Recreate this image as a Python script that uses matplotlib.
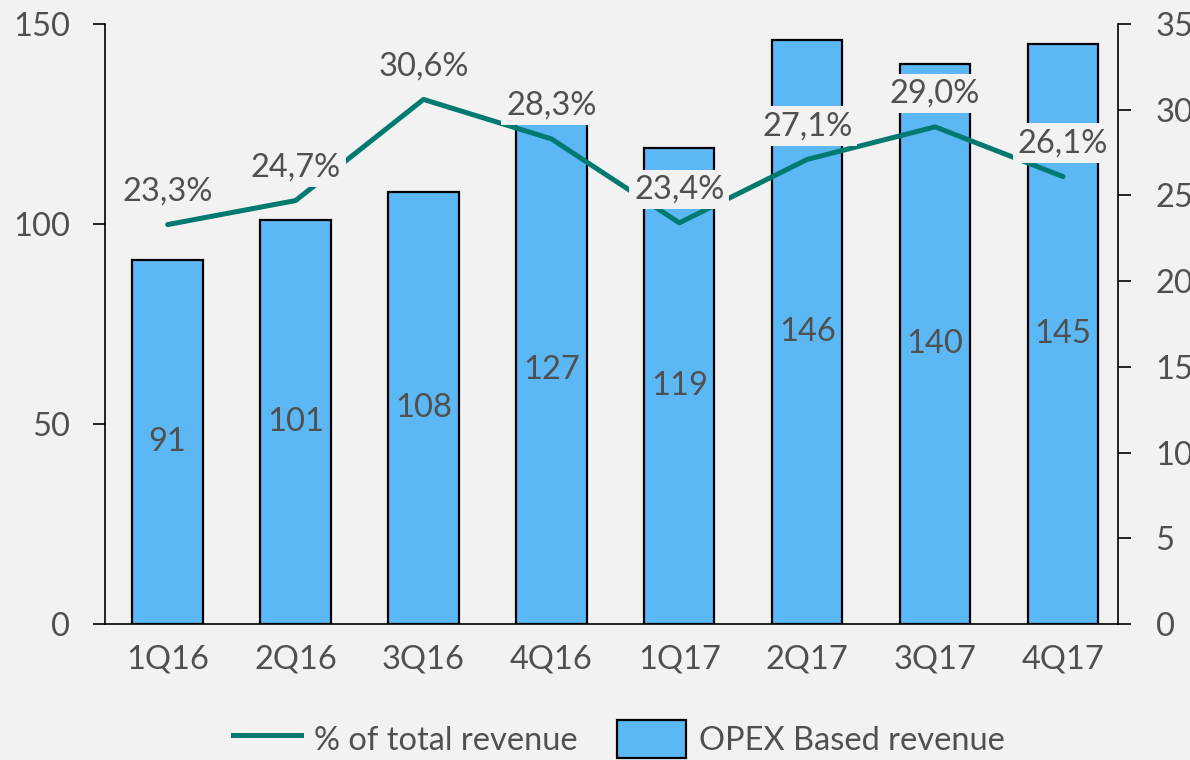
import matplotlib
matplotlib.use("Agg")
import matplotlib.pyplot as plt
import numpy as np

categories = ["1Q16", "2Q16", "3Q16", "4Q16", "1Q17", "2Q17", "3Q17", "4Q17"]
opex_revenue = [91, 101, 108, 127, 119, 146, 140, 145]
pct_total = [23.3, 24.7, 30.6, 28.3, 23.4, 27.1, 29.0, 26.1]
left_ticks = [0, 50, 100, 150]
right_ticks = [0, 5, 10, 15, 20, 25, 30, 35]

BG = "#f2f2f2"
BAR = "#5bb8f5"
LINE = "#007a70"
TXT = "#505050"

plt.rcParams['font.family'] = ['Lato', 'DejaVu Sans']
FS = 23.5

fig = plt.figure(figsize=(11.9, 7.6), dpi=100, facecolor=BG)
ax = fig.add_axes([105/1190, 1-624/760, (1118-105)/1190, 600/760])
ax.set_facecolor(BG)
x = np.arange(len(categories))
bars = ax.bar(x, opex_revenue, width=0.55, color=BAR, edgecolor="black", linewidth=1.6, zorder=2)
ax.set_xlim(-0.49, 7.43)
ax.set_ylim(0, 150)
ax.set_yticks(left_ticks)
ax.set_xticks(x)
ax.set_xticklabels(categories)
ax.tick_params(axis='y', length=9, width=1.2, pad=16, labelsize=FS, labelcolor=TXT, direction='out')
ax.tick_params(axis='x', length=0, pad=15, labelsize=FS, labelcolor=TXT)
for s in ["top", "right"]:
    ax.spines[s].set_visible(False)
ax.spines["left"].set_linewidth(1.2)
ax.spines["bottom"].set_linewidth(1.2)

for xi, v in zip(x, opex_revenue):
    ax.text(xi, v / 2, f"{v}", ha="center", va="center", fontsize=FS, color=TXT, zorder=3)

ax2 = ax.twinx()
ax2.set_ylim(0, 35)
ax2.set_yticks(right_ticks)
ax2.tick_params(axis='y', length=9, width=1.2, pad=18, labelsize=FS, labelcolor=TXT, direction='out')
for s in ["top", "left", "bottom"]:
    ax2.spines[s].set_visible(False)
ax2.spines["right"].set_linewidth(1.2)
line, = ax2.plot(x, pct_total, color=LINE, linewidth=3.6, solid_capstyle='round', zorder=3)

for xi, p in zip(x, pct_total):
    lab = f"{p:.1f}%".replace(".", ",")
    ax2.annotate(lab, (xi, p), xytext=(0, 24), textcoords="offset points",
                 ha="center", va="center", fontsize=FS, color=TXT, zorder=4,
                 bbox=dict(boxstyle="square,pad=0.15", facecolor=BG, edgecolor="none"))

from matplotlib.patches import Patch
from matplotlib.lines import Line2D
handles = [Line2D([0], [0], color=LINE, linewidth=3.6),
           Patch(facecolor=BAR, edgecolor="black", linewidth=1.6)]
leg = fig.legend(handles, ["% of total revenue", "OPEX Based revenue"], loc="lower center",
                 bbox_to_anchor=(0.52, -0.036), ncol=2, frameon=False, fontsize=FS,
                 handlelength=2.1, handleheight=1.4, columnspacing=1.2, handletextpad=0.4)
for t in leg.get_texts():
    t.set_color(TXT)

fig.savefig("out.png", dpi=100, facecolor=BG)
